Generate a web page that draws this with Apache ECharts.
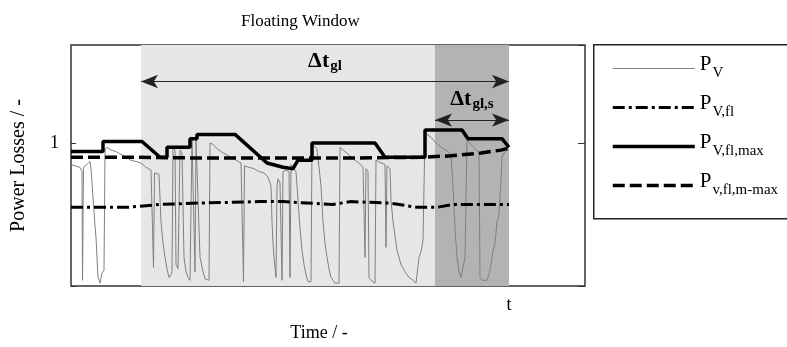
<!DOCTYPE html>
<html>
<head>
<meta charset="UTF-8">
<title>Floating Window</title>
<script src="https://cdn.jsdelivr.net/npm/echarts@6/dist/echarts.min.js"></script>
<style>
  html, body { margin: 0; padding: 0; background: #fff; }
  #chart { width: 787px; height: 347px; }
</style>
</head>
<body>
<div id="chart"></div>
<script>
// time in samples (0..438), values relative (1 = nominal)
const pV = [
  [0,0.85],[4,0.84],[9,0.83],[11,0.80],[11.5,0.04],[12.5,0.83],[16,0.85],[19,0.87],[20,0.82],[24,0.42],
  [25,0.34],[27,0.06],[29,0.02],[31,0.09],[33,0.11],[34,0.95],[36,0.97],[40,0.95],[45,0.94],[50,0.92],
  [55,0.90],[60,0.88],[65,0.87],[70,0.86],[75,0.83],[80,0.81],[82,0.80],[82.5,0.13],[83.5,0.79],[88,0.78],
  [90,0.45],[92,0.30],[94,0.20],[96,0.12],[98,0.06],[100,0.08],[101,0.10],[102,0.97],[104,0.95],[105,0.15],
  [107,0.12],[109,0.95],[111,0.93],[113,0.20],[115,0.10],[117,0.06],[119,0.04],[121,1.03],[123,1.04],[124,0.10],
  [125,1.03],[127,1.02],[129,0.20],[132,0.10],[134,0.05],[136,0.04],[138,0.04],[139,1.00],[142,0.99],[146,0.96],
  [150,0.94],[155,0.92],[160,0.90],[165,0.88],[170,0.86],[172,0.85],[172.5,0.03],[173.5,0.84],[178,0.83],[183,0.82],
  [188,0.80],[193,0.79],[197,0.76],[199,0.75],[200,0.70],[201,0.45],[202,0.30],[203,0.20],[205,0.06],[206,0.70],
  [207,0.75],[209,0.72],[211,0.04],[212,0.80],[215,0.81],[218,0.80],[219,0.06],[220,0.85],[222,0.86],[225,0.80],
  [227,0.60],[229,0.40],[231,0.25],[233,0.15],[235,0.08],[237,0.03],[239,0.02],[240,0.03],[241,0.99],[242,0.98],
  [246,0.96],[248,0.95],[250,0.70],[252,0.45],[254,0.30],[256,0.20],[258,0.12],[260,0.06],[262,0.04],[264,0.02],
  [266,0.02],[268,0.02],[269,0.97],[272,0.95],[276,0.93],[280,0.90],[284,0.88],[288,0.86],[292,0.83],[293,0.82],
  [294,0.20],[295,0.82],[297,0.80],[298,0.06],[300,0.04],[302,0.03],[304,0.02],[305,0.88],[306,0.87],[310,0.86],
  [314,0.85],[315,0.27],[316,0.84],[318,0.83],[319,0.82],[320,0.60],[322,0.45],[324,0.35],[326,0.25],[330,0.15],
  [334,0.10],[338,0.06],[342,0.04],[345,0.02],[347,0.03],[348,0.20],[350,0.24],[352,0.32],[354,1.07],[355,1.07],
  [360,1.04],[365,1.00],[370,0.97],[375,0.95],[380,0.92],[382,0.70],[384,0.40],[386,0.20],[388,0.10],[390,0.06],
  [392,0.06],[394,0.20],[396,1.02],[400,0.99],[404,0.96],[408,0.93],[409,0.06],[411,0.04],[413,0.03],[416,0.04],
  [418,0.08],[420,0.15],[422,0.25],[424,0.30],[426,0.45],[428,0.50],[430,0.74],[431,0.90],[433,0.93],[436,0.95],
  [438,0.95]
];
const pVfl = [
  [0,0.55],[56,0.55],[89,0.57],[129,0.58],[189,0.59],[212,0.59],[262,0.57],[279,0.59],[319,0.58],[346,0.55],
  [366,0.55],[382,0.57],[438,0.57]
];
const pVflMax = [
  [0,0.94],[32,0.94],[32,1.01],[71,1.01],[89,0.90],[96,0.90],[96,0.97],[119,0.97],[119,1.03],[126,1.03],
  [126,1.06],[164,1.06],[196,0.86],[212,0.83],[222,0.82],[227,0.88],[241,0.88],[241,1.00],[304,1.00],[314,0.90],
  [354,0.90],[354,1.09],[391,1.09],[397,1.03],[431,1.03],[438,0.97]
];
const pVflMMax = [
  [0,0.90],[60,0.90],[130,0.895],[200,0.895],[280,0.895],[350,0.90],[380,0.91],[410,0.93],[430,0.95],[438,0.965]
];
// floating windows and arrow heights
const windowGl = [70, 438];
const windowGlS = [364, 438];
const arrowY = [1.43, 1.16];
const seriesNames = ['P_V', 'P_V,fl', 'P_V,fl,max', 'P_v,fl,m-max'];
const subLabels = { 'P_V': 'V', 'P_V,fl': 'V,fl', 'P_V,fl,max': 'V,fl,max', 'P_v,fl,m-max': 'v,fl,m-max' };

const serif = "'Liberation Serif', 'Times New Roman', serif";
const chart = echarts.init(document.getElementById('chart'));

const lineStyles = {
  'P_V': { color: '#808080', width: 1 },
  'P_V,fl': { color: '#000', width: 3, type: [12, 4, 3, 4] },
  'P_V,fl,max': { color: '#000', width: 3.5 },
  'P_v,fl,m-max': { color: '#000', width: 3.5, type: [12, 5] }
};

const option = {
  animation: false,
  title: {
    text: 'Floating Window',
    left: 236,
    top: 8,
    textStyle: { fontFamily: serif, fontSize: 17, fontWeight: 'normal', color: '#000' }
  },
  grid: {
    left: 71, right: 202, top: 45, bottom: 61,
    show: true, borderColor: '#333', borderWidth: 1.5, backgroundColor: '#fff'
  },
  legend: {
    orient: 'vertical',
    left: 606, top: 49,
    itemWidth: 82, itemHeight: 14, itemGap: 12,
    data: seriesNames.map(n => ({ name: n, lineStyle: lineStyles[n] })),
    itemStyle: { color: 'rgba(0,0,0,0)', borderColor: 'rgba(0,0,0,0)', borderWidth: 0 },
    formatter: name => '{p|P}{s|' + subLabels[name] + '}',
    textStyle: {
      fontFamily: serif, color: '#000',
      rich: {
        p: { fontFamily: serif, fontSize: 21, color: '#000', padding: [0, 0, 8, 0] },
        s: { fontFamily: serif, fontSize: 15, color: '#000', padding: [10, 0, 0, 1] }
      }
    }
  },
  graphic: [{
    type: 'rect', left: 593, top: 44, z: -1,
    shape: { width: 200, height: 174 },
    style: { fill: '#fff', stroke: '#222', lineWidth: 1.5 }
  }],
  xAxis: {
    type: 'value', min: 0, max: 514, interval: 438,
    name: 'Time / -', nameLocation: 'middle', nameGap: 38,
    nameTextStyle: { fontFamily: serif, fontSize: 18, color: '#000', padding: [0, 18, 0, 0] },
    axisLine: { show: false }, axisTick: { show: false }, splitLine: { show: false },
    axisLabel: {
      fontFamily: serif, fontSize: 18, color: '#000', margin: 10,
      showMaxLabel: false,
      formatter: v => (v === 438 ? 't' : '')
    }
  },
  yAxis: [{
    type: 'value', min: 0, max: 1.685, interval: 1,
    name: 'Power Losses / -', nameLocation: 'middle', nameGap: 42,
    nameTextStyle: { fontFamily: serif, fontSize: 20, color: '#000' },
    axisLine: { show: false }, splitLine: { show: false },
    axisTick: { show: true, inside: true, length: 5, lineStyle: { color: '#333' } },
    axisLabel: {
      fontFamily: serif, fontSize: 18, color: '#000', margin: 12,
      showMaxLabel: false,
      formatter: v => (v === 1 ? '1' : '')
    }
  }, {
    type: 'value', min: 0, max: 1.685, interval: 1, position: 'right',
    axisLine: { show: false }, splitLine: { show: false }, axisLabel: { show: false },
    axisTick: { show: true, inside: true, length: 7, lineStyle: { color: '#333' } }
  }],
  series: [
    {
      name: 'P_V', type: 'line', data: pV, showSymbol: false, symbol: 'none',
      lineStyle: lineStyles['P_V'], itemStyle: { color: '#808080' },
      markArea: {
        silent: true,
        data: [
          [{ xAxis: windowGl[0], itemStyle: { color: '#e6e6e6' } }, { xAxis: windowGlS[0] }],
          [{ xAxis: windowGlS[0], itemStyle: { color: '#b3b3b3' } }, { xAxis: windowGlS[1] }]
        ]
      },
      markLine: {
        silent: true,
        symbol: ['arrow', 'arrow'], symbolSize: [10, 17],
        lineStyle: { color: '#222', width: 1, type: 'solid' },
        label: {
          position: 'insideMiddleTop', distance: 8,
          fontFamily: serif, color: '#000',
          rich: {
            d: { fontFamily: serif, fontSize: 22, fontWeight: 'bold', color: '#000' },
            s: { fontFamily: serif, fontSize: 15, fontWeight: 'bold', color: '#000', padding: [10, 0, 0, 1] }
          }
        },
        data: [
          [{ coord: [windowGl[0], arrowY[0]], label: { formatter: '{d|Δt}{s|gl}' } }, { coord: [windowGl[1], arrowY[0]] }],
          [{ coord: [windowGlS[0], arrowY[1]], label: { formatter: '{d|Δt}{s|gl,s}' } }, { coord: [windowGlS[1], arrowY[1]] }]
        ]
      }
    },
    {
      name: 'P_V,fl', type: 'line', data: pVfl, showSymbol: false, symbol: 'none',
      lineStyle: lineStyles['P_V,fl'], itemStyle: { color: '#000' }
    },
    {
      name: 'P_v,fl,m-max', type: 'line', data: pVflMMax, showSymbol: false, symbol: 'none',
      lineStyle: lineStyles['P_v,fl,m-max'], itemStyle: { color: '#000' }
    },
    {
      name: 'P_V,fl,max', type: 'line', data: pVflMax, showSymbol: false, symbol: 'none',
      lineStyle: lineStyles['P_V,fl,max'], itemStyle: { color: '#000' }
    }
  ]
};
chart.setOption(option);
</script>
</body>
</html>
